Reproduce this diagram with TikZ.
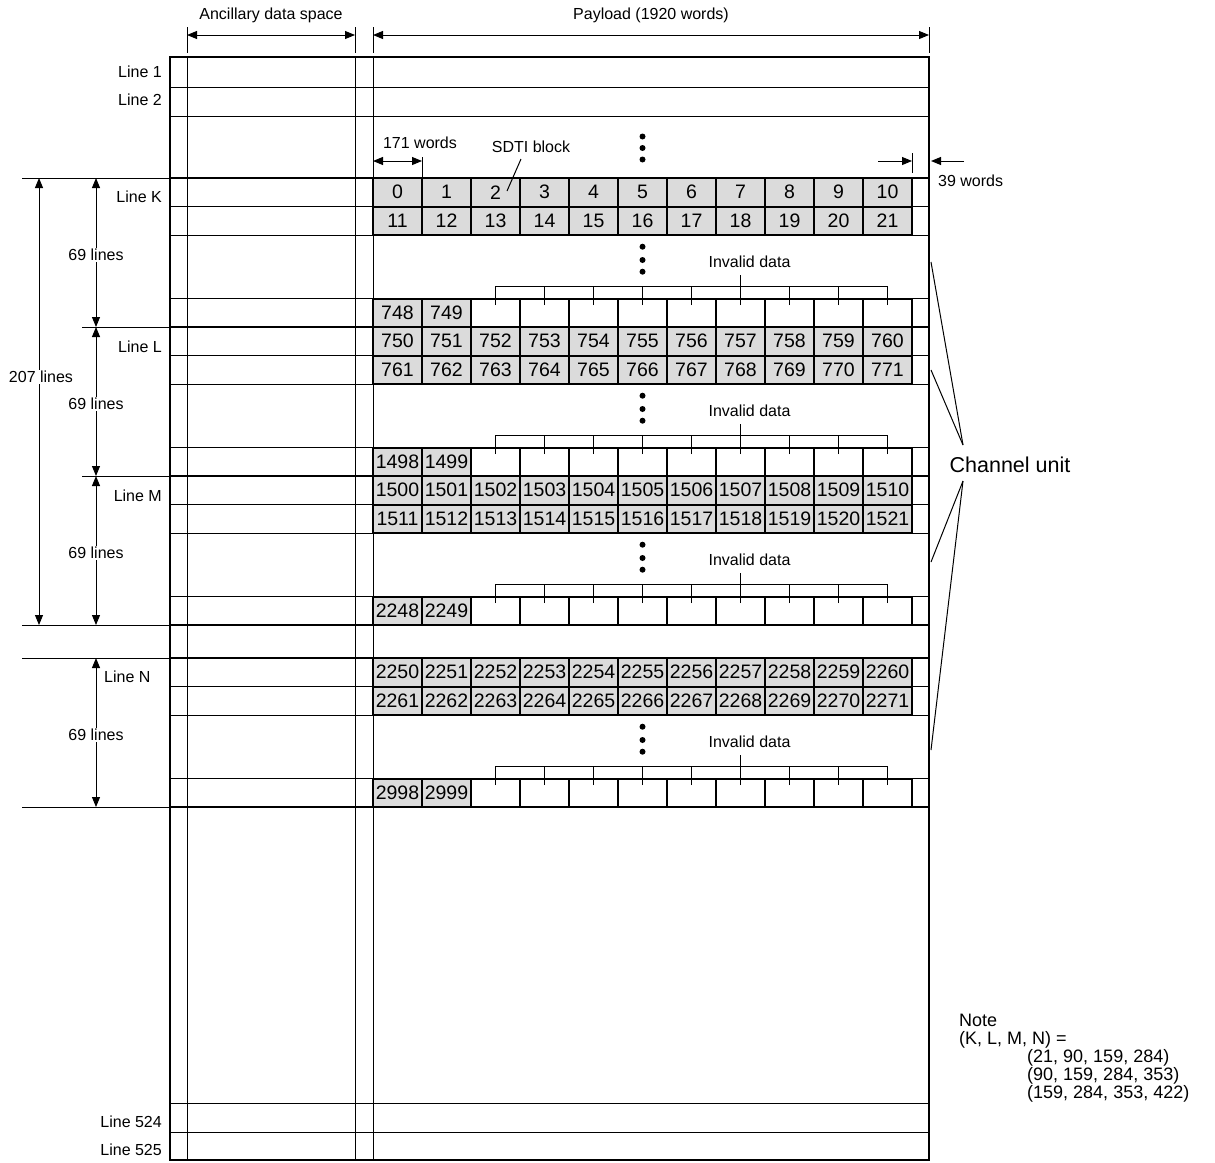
\documentclass[tikz,border=0pt]{standalone}
\usepackage{fontspec}
\setmainfont{Liberation Sans}
\usetikzlibrary{arrows.meta}
\definecolor{cellgray}{gray}{0.86}
\tikzset{
  thinln/.style={line width=1pt},
  blockbox/.style={line width=2.6pt},
  cellg/.style={draw, line width=2pt, fill=cellgray, minimum width=49pt, minimum height=28.5pt, inner sep=0pt, outer sep=0pt, font=\fontsize{19.5}{20}\selectfont},
  cellw/.style={cellg, fill=white},
  lbl/.style={font=\fontsize{16}{18}\selectfont, inner sep=1pt},
  dimarrow/.style={line width=1pt, {Triangle[length=10pt,width=8pt]}-{Triangle[length=10pt,width=8pt]}},
  onearrow/.style={line width=1pt, -{Triangle[length=10pt,width=8pt]}},
}
\begin{document}
\begin{tikzpicture}[x=1pt,y=-1pt]
\useasboundingbox (0,0) rectangle (1215,1162);

% frame corners
\coordinate (tl) at (170,57);
\coordinate (br) at (929,1160);

% thin vertical lines
\foreach \xx in {187,355,373}{\draw[thinln] (\xx,57) -- (\xx,1160);}
% thin horizontal lines (top / bottom rows)
\foreach \yy in {87,116,1103,1132}{\draw[thinln] (170,\yy) -- (929,\yy);}

% blocks
\foreach \T/\S/\nm in {178/0/K,327/750/L,476/1500/M,658/2250/N}{
  \foreach \yy in {28.5,57,120.5}{\draw[thinln] (170,\T+\yy) -- (929,\T+\yy);}
  \foreach \i in {0,...,10}{
    \pgfmathtruncatemacro\na{\S+\i}
    \pgfmathtruncatemacro\nb{\S+11+\i}
    \node[cellg] (c\nm a\i) at ({397.5+49*\i},{\T+14.25}) {\na};
    \node[cellg] (c\nm b\i) at ({397.5+49*\i},{\T+42.75}) {\nb};
  }
  \pgfmathtruncatemacro\za{\S+748}
  \pgfmathtruncatemacro\zb{\S+749}
  \node[cellg] (c\nm z0) at (397.5,{\T+134.75}) {\za};
  \node[cellg] (c\nm z1) at (446.5,{\T+134.75}) {\zb};
  \foreach \i in {2,...,10}{
    \node[cellw] (c\nm z\i) at ({397.5+49*\i},{\T+134.75}) {};
    \draw[thinln] ([yshift=-6.5pt]c\nm z\i.north) -- ([yshift=12.5pt]c\nm z\i.north);
  }
  \draw[thinln] ([yshift=12.5pt]c\nm z2.north) -- ([yshift=12.5pt]c\nm z10.north);
  \draw[thinln] ([yshift=12.5pt]c\nm z7.north) -- ([yshift=23.5pt]c\nm z7.north);
  \node[lbl] (inv\nm) at ([xshift=9pt,yshift=36.5pt]c\nm z7.north) {Invalid data};
  \foreach \d in {11.7,25,36.7}{\fill ([yshift=-\d pt]c\nm b5.south) circle (3pt);}
  \draw[blockbox] (170,\T) rectangle (929,\T+149);
}

% outer frame
\draw[line width=2pt] (tl) rectangle (br);

% top dots
\foreach \d in {41.5,30,18.5}{\fill ([yshift=\d pt]cKa5.north) circle (3pt);}

% top dimension arrows
\foreach \xx in {187,355,373,929}{\draw[thinln] (\xx,27) -- (\xx,53);}
\coordinate (anl) at (187,35); \coordinate (anr) at (355,35);
\coordinate (pll) at (373,35); \coordinate (plr) at (929,35);
\draw[dimarrow] (anl) -- (anr);
\draw[dimarrow] (pll) -- (plr);
\node[lbl] (anc) at (271,15) {Ancillary data space};
\node[lbl] (pay) at (651,15) {Payload (1920 words)};

% 171 words
\draw[thinln] (422,157) -- (cKa0.north east);
\coordinate (w1l) at (373,161); \coordinate (w1r) at (422,161);
\draw[dimarrow] (w1l) -- (w1r);
\node[lbl] (w171) at (420,143) {171 words};

% SDTI block
\node[lbl] (sdti) at (531,147) {SDTI block};
\draw[thinln] (521,159) -- (507,191);

% 39 words
\draw[thinln] (912,153) -- (912,173);
\coordinate (w3a) at (878,161); \coordinate (w3b) at (912,161);
\coordinate (w3c) at (964,161); \coordinate (w3d) at (931,161);
\draw[onearrow] (w3a) -- (w3b);
\draw[onearrow] (w3c) -- (w3d);
\node[lbl, anchor=west] (w39) at (937,181) {39 words};

% left labels
\node[lbl, anchor=east] (l1) at (163,72) {Line 1};
\node[lbl, anchor=east] (l2) at (163,100) {Line 2};
\node[lbl, anchor=east] (lK) at (163,197) {Line K};
\node[lbl, anchor=east] (lL) at (163,347) {Line L};
\node[lbl, anchor=east] (lM) at (163,496) {Line M};
\node[lbl, anchor=west] (lN) at (103,677) {Line N};
\node[lbl, anchor=east] (l524) at (163,1122) {Line 524};
\node[lbl, anchor=east] (l525) at (163,1150) {Line 525};

% left extension lines
\draw[thinln] (22,178) -- (170,178);
\draw[thinln] (82,327) -- (170,327);
\draw[thinln] (82,476) -- (170,476);
\draw[thinln] (22,625) -- (170,625);
\draw[thinln] (22,658) -- (170,658);
\draw[thinln] (22,807) -- (170,807);

% 207 lines
\coordinate (a207t) at (39,178); \coordinate (a207b) at (39,625);
\draw[dimarrow] (a207t) -- (a207b);
\node[lbl, fill=white] (t207) at (41,377) {207 lines};

% 69 lines
\foreach \T/\nm in {178/K,327/L,476/M,658/N}{
  \coordinate (a\nm t) at (96,\T);
  \coordinate (a\nm b) at (96,\T+149);
  \draw[dimarrow] (a\nm t) -- (a\nm b);
  \node[lbl, fill=white] (t69\nm) at (96,\T+77) {69 lines};
}

% channel unit
\node[font=\fontsize{21.5}{24}\selectfont, inner sep=1pt] (cu) at (1010,465) {Channel unit};
\coordinate (cuA) at (963,445); \coordinate (cuB) at (963,481);
\coordinate (pK) at (931,262); \coordinate (pL) at (931,370);
\coordinate (pM) at (931,562); \coordinate (pN) at (931,750);
\draw[thinln] (cuA) -- (pK);
\draw[thinln] (cuA) -- (pL);
\draw[thinln] (cuB) -- (pM);
\draw[thinln] (cuB) -- (pN);

% note
\node[anchor=north west, align=left, inner sep=1pt, font=\fontsize{18}{18}\selectfont] (note) at (958,1013)
 {Note\\(K, L, M, N) =\\\hspace*{68pt}(21, 90, 159, 284)\\\hspace*{68pt}(90, 159, 284, 353)\\\hspace*{68pt}(159, 284, 353, 422)};
\end{tikzpicture}
\end{document}
